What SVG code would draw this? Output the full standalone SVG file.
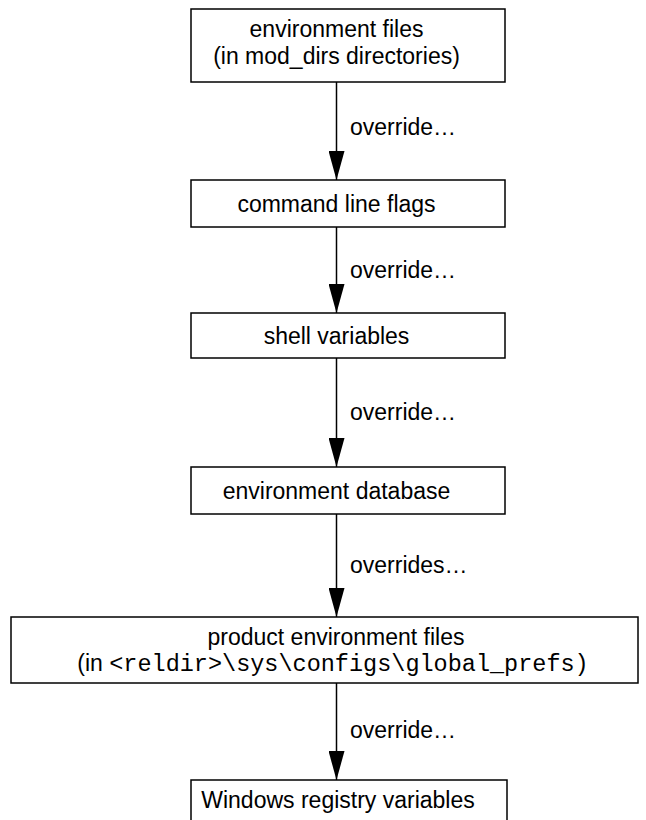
<svg xmlns="http://www.w3.org/2000/svg" width="646" height="820" viewBox="0 0 646 820">
<style>
.box{fill:#fff;stroke:#000;stroke-width:1.5}
.t{font-family:"Liberation Sans",Arial,sans-serif;font-size:23px;fill:#000;text-anchor:middle}
.l{font-family:"Liberation Sans",Arial,sans-serif;font-size:23px;fill:#000}
.m{font-family:"Liberation Mono","Courier New",monospace;font-size:23.5px}
.c{stroke:#000;stroke-width:1.5;fill:none;marker-end:url(#ah)}
</style>
<defs>
<marker id="ah" markerUnits="userSpaceOnUse" markerWidth="30" markerHeight="16" refX="29" refY="8" orient="auto" viewBox="0 0 30 16">
<path d="M0,0 L29,8 L0,16 Z" fill="#000"/>
</marker>
</defs>
<g id="connectors">
<line class="c" x1="336.5" y1="82" x2="336.5" y2="180"/>
<line class="c" x1="336.5" y1="227" x2="336.5" y2="313"/>
<line class="c" x1="336.5" y1="358" x2="336.5" y2="467"/>
<line class="c" x1="336.5" y1="514" x2="336.5" y2="617"/>
<line class="c" x1="336.5" y1="683" x2="336.5" y2="780"/>
<text class="l" x="350" y="135">override…</text>
<text class="l" x="350" y="278">override…</text>
<text class="l" x="350" y="420">override…</text>
<text class="l" x="350" y="573">overrides…</text>
<text class="l" x="350" y="738">override…</text>
</g>
<g id="node1">
<rect class="box" x="191" y="9" width="314" height="73"/>
<text class="t" x="336.5" y="37">environment files</text>
<text class="t" x="336.5" y="64">(in mod_dirs directories)</text>
</g>
<g id="node2">
<rect class="box" x="191" y="180" width="314" height="47"/>
<text class="t" x="336.5" y="212">command line flags</text>
</g>
<g id="node3">
<rect class="box" x="191" y="313" width="314" height="45"/>
<text class="t" x="336.5" y="344">shell variables</text>
</g>
<g id="node4">
<rect class="box" x="191" y="467" width="314" height="47"/>
<text class="t" x="336.5" y="499">environment database</text>
</g>
<g id="node5">
<rect class="box" x="11" y="617" width="627" height="66"/>
<text class="t" x="336" y="645">product environment files</text>
<text class="t" x="333" y="671">(in <tspan class="m">&lt;reldir&gt;\sys\configs\global_prefs)</tspan></text>
</g>
<g id="node6">
<rect class="box" x="191" y="780" width="316" height="50"/>
<text class="t" x="338" y="808">Windows registry variables</text>
</g>
</svg>
